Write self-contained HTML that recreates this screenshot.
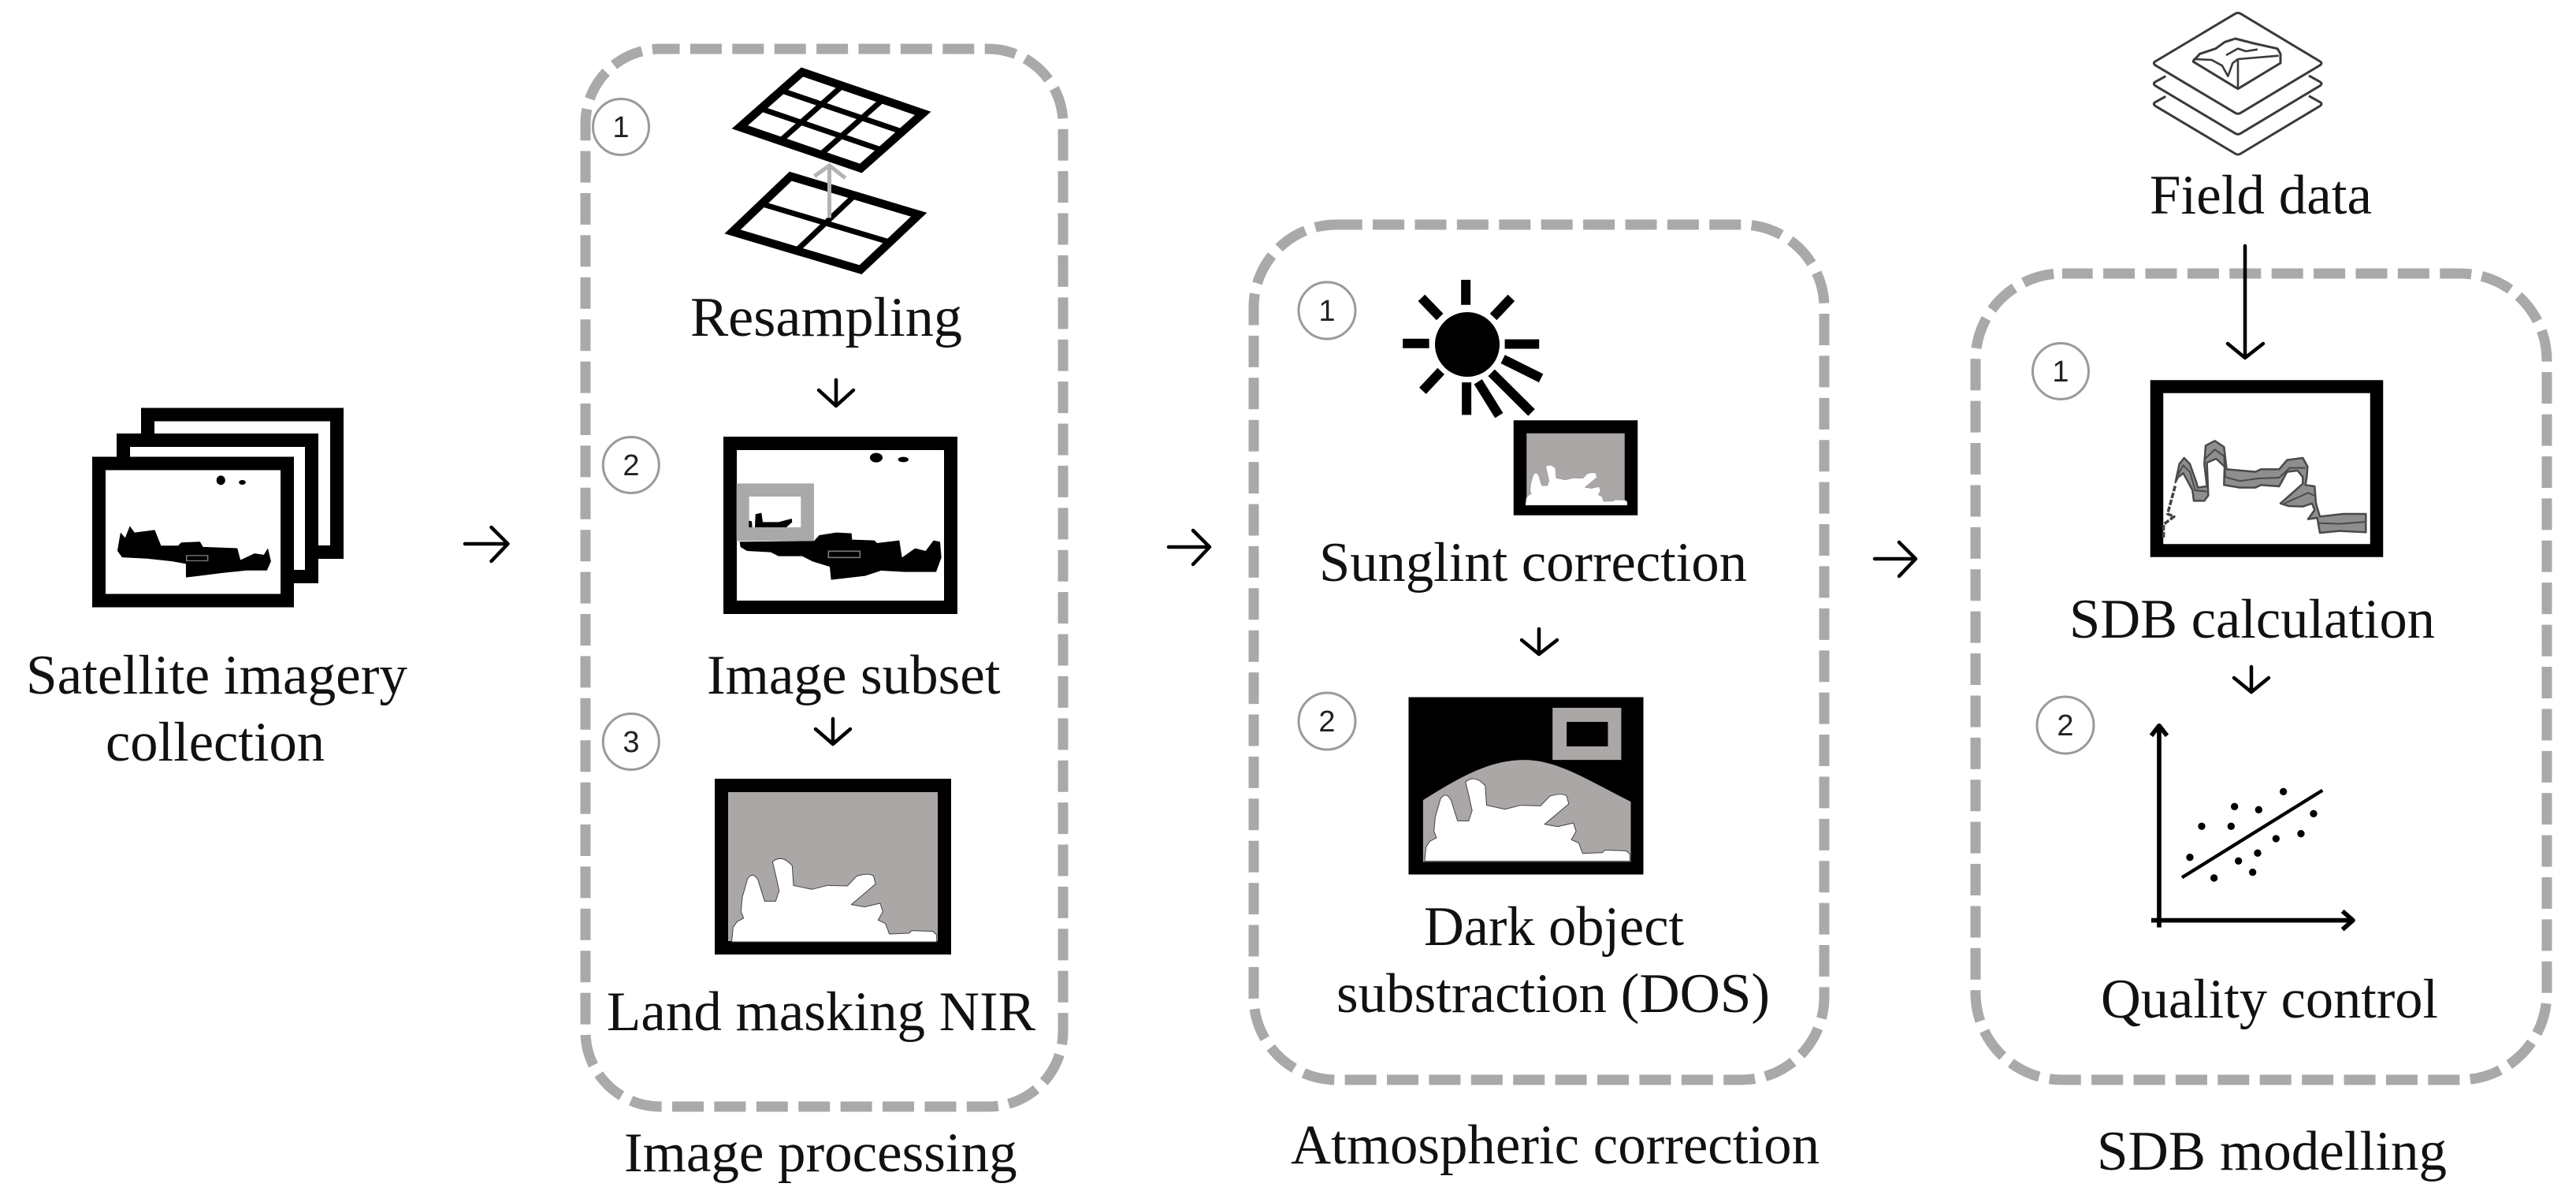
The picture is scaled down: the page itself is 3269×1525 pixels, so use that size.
<!DOCTYPE html>
<html lang="en">
<head>
<meta charset="utf-8">
<title>SDB workflow</title>
<style>
html,body{margin:0;padding:0;background:#fff}
svg{display:block}
text{font-family:"Liberation Serif",serif;font-size:71px;fill:#111}
.n{font-family:"Liberation Sans",sans-serif;font-size:38px;text-anchor:middle;fill:#222}
.ns *{vector-effect:non-scaling-stroke}
.b{fill:none;stroke:#aaa9a9;stroke-width:13;stroke-dasharray:40 13.4}
.c{fill:#fff;stroke:#9a9a9a;stroke-width:3}
.f{stroke:#000;stroke-width:17;fill:#fff}
.a{fill:none;stroke:#000;stroke-width:4.5;stroke-linecap:round;stroke-linejoin:round}
</style>
</head>
<body>
<svg width="3269" height="1525" viewBox="0 0 3269 1525" xmlns="http://www.w3.org/2000/svg">
<defs>
<path id="coast" d="M65 400L70 350L85 328L110 315L100 290L105 235L125 165Q145 135 165 170L190 250L232 250L245 210L232 150L220 100Q255 70 295 115L300 190L370 205L430 190L505 192L540 155Q590 140 605 155L612 185L565 225L520 263L570 272L630 258L640 290L622 322L650 335L665 375L740 372L750 362L830 365L845 378V405H65Z"/>
</defs>
<rect width="3269" height="1525" fill="#fff"/>

<!-- dashed containers -->
<rect class="b" x="743" y="62" width="606" height="1342" rx="95" ry="95" stroke-dashoffset="15.5"/>
<rect class="b" x="1591" y="285" width="724" height="1085" rx="105" ry="105" stroke-dashoffset="7.3"/>
<rect class="b" x="2507" y="347" width="725" height="1023" rx="110" ry="110" stroke-dashoffset="1.3"/>

<!-- satellite imagery stack -->
<rect class="f" x="187.5" y="526" width="240" height="174.5"/>
<rect class="f" x="156.5" y="558.5" width="239" height="173"/>
<rect class="f" x="125.5" y="588" width="239" height="174"/>
<g transform="translate(60,480) scale(.3954,.3316)">
<path d="M225 660L235 590L250 610L265 565L280 590L345 580L355 610L365 640L420 640L430 628L490 625L500 645L610 650L620 695L665 670L695 675L708 650L718 700L705 735L640 735L560 745L445 762L445 710L400 700L320 690L240 685Z" fill="#000"/>
<ellipse cx="557" cy="390" rx="14" ry="18"/>
<ellipse cx="626" cy="398" rx="11" ry="9"/>
<rect x="447" y="678" width="68" height="20" fill="none" stroke="#777" stroke-width="4"/>
</g>
<text x="33" y="880" textLength="484" lengthAdjust="spacingAndGlyphs">Satellite imagery</text>
<text x="134" y="965" textLength="278" lengthAdjust="spacingAndGlyphs">collection</text>

<!-- flow arrows -->
<path class="a" d="M590 690H644M623.5 669L644.5 690L623.5 712"/>
<path class="a" d="M1483 694H1535M1514 673L1535 694L1514 716"/>
<path class="a" d="M2379 709H2431M2410 688L2431 709L2410 731"/>

<!-- Image processing -->
<circle class="c" cx="788" cy="161" r="35.5"/><text class="n" x="788" y="174">1</text>
<circle class="c" cx="800.8" cy="590" r="35.5"/><text class="n" x="801" y="603">2</text>
<circle class="c" cx="800.8" cy="941" r="35.5"/><text class="n" x="801" y="954">3</text>

<g class="ns" transform="translate(720,40) scale(.4209,.4592)" fill="none" stroke="#000">
<path d="M520 264L708 112L1072 226L885 378Z" stroke-width="10.5" stroke-linejoin="miter"/>
<path d="M583 213L947 327M645 163L1010 277M642 302L829 150M763 340L951 188" stroke-width="7"/>
<path d="M498 553L673 400L1060 506L884 658Z" stroke-width="10.5" stroke-linejoin="miter"/>
<path d="M585 476L972 582M691 605L866 453" stroke-width="7"/>
<path d="M790 515V372M745 400L790 370L838 405" stroke="#b3b3b3" stroke-width="5"/>
</g>
<text x="876" y="426" textLength="345" lengthAdjust="spacingAndGlyphs">Resampling</text>
<path class="a" d="M1061 482V514M1039 495L1061 515L1083 495"/>

<rect class="f" x="926.5" y="562.5" width="280" height="208"/>
<g transform="translate(918,554) scale(.3333)">
<path d="M50 178H345V397H50ZM98 228V345H295V228Z" fill="#a9a9a9" fill-rule="evenodd"/>
<path d="M62 400L345 397L365 375L430 365L488 368L490 392L575 395L585 405L670 395L680 460L730 425L770 435L800 395L825 400L830 460L810 515L690 515L600 510L540 530L410 545L405 495L340 475L300 455L210 455L180 440L90 435L65 420Z" fill="#000"/>
<path d="M97 345V320L108 322L110 345ZM120 345L122 295L145 290L150 325L210 325L260 312L262 325L240 345Z" fill="#000"/>
<ellipse cx="582" cy="80" rx="24" ry="18"/>
<ellipse cx="685" cy="87" rx="20" ry="10"/>
<rect x="400" y="436" width="120" height="24" fill="none" stroke="#777" stroke-width="5"/>
</g>
<text y="880"><tspan x="897">Image</tspan><tspan x="1092">subset</tspan></text>
<path class="a" d="M1057 912V943M1035 925L1057 944L1079 925"/>

<rect x="915.5" y="996.5" width="283" height="206" fill="#aaa7a6" stroke="#000" stroke-width="17"/>
<g class="ns" transform="translate(907,1060) scale(.3333)">
<use href="#coast" fill="#fff" stroke="#444" stroke-width="3" stroke-linejoin="round"/>
</g>
<text x="770" y="1307" textLength="544" lengthAdjust="spacingAndGlyphs">Land masking NIR</text>
<text y="1486"><tspan x="792">Image</tspan><tspan x="987">processing</tspan></text>

<!-- Atmospheric correction -->
<circle class="c" cx="1684" cy="394" r="36"/><text class="n" x="1684" y="407">1</text>
<circle class="c" cx="1684" cy="915" r="36"/><text class="n" x="1684" y="928">2</text>

<ellipse cx="1862" cy="437" rx="41" ry="41" fill="#000"/>
<g class="ns" transform="translate(1580,270) scale(.4847,.3827)" stroke="#000" stroke-width="12" fill="none">
<path d="M578 222L578 305M462 282L510 345M697 282L650 345M413 433L482 433M680 435L770 435M675 485L775 548M645 530L750 662M610 560L665 672M580 562L580 670M513 525L465 590"/>
</g>
<rect x="1929" y="541.5" width="141" height="104" fill="#aaa7a6" stroke="#000" stroke-width="16.5"/>
<g class="ns" transform="translate(1925.2,576) scale(.1654,.1606)">
<use href="#coast" fill="#fff" stroke="#666" stroke-width="2" stroke-linejoin="round"/>
</g>
<text x="1674" y="737" textLength="543" lengthAdjust="spacingAndGlyphs">Sunglint correction</text>
<path class="a" d="M1953 798V829M1931 812L1953 830L1976 812"/>

<rect x="1787.5" y="884.5" width="298" height="225" fill="#000"/>
<g transform="translate(1580,860) scale(.4847,.4082)">
<path d="M466 380C560 310 640 255 730 255C820 255 900 320 1010 385V572H466Z" fill="#aaa7a6"/>
<path d="M805 93H985V255H805ZM842 137V213H950V137Z" fill="#aaa7a6" fill-rule="evenodd"/>
</g>
<g class="ns" transform="translate(1786.3,959) scale(.334,.33)">
<use href="#coast" fill="#fff" stroke="#444" stroke-width="3" stroke-linejoin="round"/>
</g>
<text x="1807" y="1199" textLength="330" lengthAdjust="spacingAndGlyphs">Dark object</text>
<text x="1696" y="1284" textLength="550" lengthAdjust="spacingAndGlyphs">substraction (DOS)</text>
<text x="1638" y="1476" textLength="671" lengthAdjust="spacingAndGlyphs">Atmospheric correction</text>

<!-- Field data -->
<g class="ns" transform="translate(2720,0) scale(.3333)" fill="none" stroke="#3a3a3a" stroke-width="3" stroke-linejoin="round">
<path d="M85 290L45 312Q35 318 45 326L350 508Q360 514 370 508L673 326Q683 318 673 312L630 288"/>
<path d="M85 367L45 389Q35 395 45 403L350 585Q360 591 370 585L673 403Q683 395 673 389L630 365"/>
<path d="M350 52Q360 46 370 52L673 234Q683 240 673 248L370 430Q360 436 350 430L45 248Q35 240 45 234Z" fill="#fff"/>
<path d="M190 232L215 205L275 185L310 160L350 147L420 165L510 185L522 205V240L360 338L190 235Z"/>
<path d="M190 225L260 228L300 250L322 290L340 240L360 225L515 212M360 225V338M315 210L360 185L390 195L435 188" stroke-width="2.6"/>
</g>
<text x="2728" y="271" textLength="282" lengthAdjust="spacingAndGlyphs">Field data</text>
<path class="a" d="M2849 312V453M2827 436L2849 454L2872 436"/>

<!-- SDB modelling -->
<circle class="c" cx="2615" cy="471" r="35.5"/><text class="n" x="2615" y="484">1</text>
<circle class="c" cx="2621" cy="920" r="36"/><text class="n" x="2621" y="933">2</text>

<rect x="2737" y="490.5" width="279" height="208" fill="#fff" stroke="#000" stroke-width="16.5"/>
<g class="ns" transform="translate(2729,482) scale(.3333)" stroke-linejoin="round" fill="none">
<path d="M50 600L50 550L90 520L65 510L95 400" stroke="#444" stroke-width="3.5" stroke-dasharray="7 2"/>
<path d="M95 390L110 320L128 297L150 320L175 390L180 410L215 405L205 320L210 250L245 232L280 255L290 340L400 350L420 340L490 340L520 305L580 297L598 330L595 370L590 400L625 405L630 470L645 520L735 510L820 510V580L720 575L645 582L635 525L600 530L625 495L615 470L580 482L525 480L495 470L580 395V370L560 345L520 350L490 405L420 400L400 410L340 410L280 400L282 330L250 300L215 315L220 440L205 460L165 460L160 420L125 355L105 370Z" fill="#8e8e8e" stroke="#4a4a4a" stroke-width="2.5"/>
<path d="M105 360L125 325L150 350L170 420L215 425M208 300L245 265L280 290L285 370L340 385L410 375L490 372L530 335L590 335M510 470L600 430L625 440M640 545L720 548L820 540" stroke="#4a4a4a" stroke-width="2"/>
</g>
<text x="2626" y="809" textLength="464" lengthAdjust="spacingAndGlyphs">SDB calculation</text>
<path class="a" d="M2857 846V877M2835 860L2857 878L2879 860"/>

<g transform="translate(2700,900) scale(.3333)" fill="none" stroke="#000" stroke-linejoin="round">
<path d="M120 830V64M90 100L120 62L150 100M90 803H855M818 768L858 803L818 838" stroke-width="17"/>
<path d="M207 640L742 308" stroke-width="13"/>
</g>
<g transform="translate(2700,900) scale(.3333)" fill="#000">
<circle cx="237" cy="563" r="14"/><circle cx="282" cy="445" r="14"/>
<circle cx="394" cy="445" r="14"/><circle cx="407" cy="370" r="14"/>
<circle cx="499" cy="382" r="14"/><circle cx="593" cy="313" r="14"/>
<circle cx="708" cy="397" r="14"/><circle cx="660" cy="473" r="14"/>
<circle cx="565" cy="492" r="14"/><circle cx="495" cy="547" r="14"/>
<circle cx="422" cy="577" r="14"/><circle cx="476" cy="620" r="14"/>
<circle cx="329" cy="642" r="14"/>
</g>
<text x="2666" y="1291" textLength="428" lengthAdjust="spacingAndGlyphs">Quality control</text>
<text x="2661" y="1484" textLength="444" lengthAdjust="spacingAndGlyphs">SDB modelling</text>
</svg>
</body>
</html>
